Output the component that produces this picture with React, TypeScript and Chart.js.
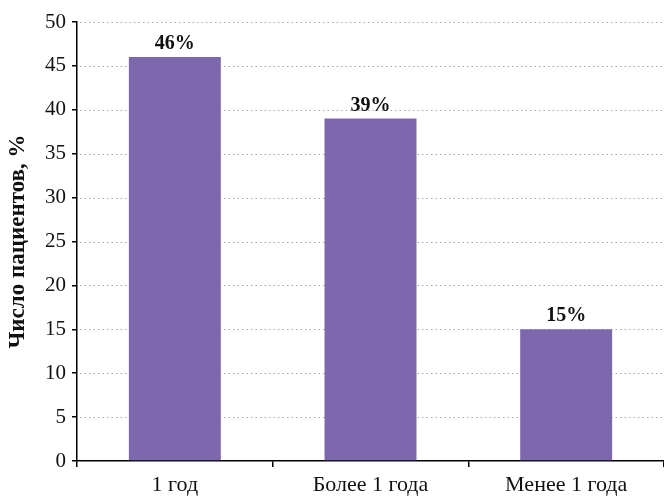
import React, { useEffect, useRef } from "react";
import { Chart, registerables } from "chart.js";

Chart.register(...registerables);

const categories = ["1 год", "Более 1 года", "Менее 1 года"];
const values = [46, 39, 15];
const valueLabels = ["46%", "39%", "15%"];
const yTitle = "Число пациентов, %";

const FONT = "'Liberation Serif', 'DejaVu Serif', serif";

const valueLabelPlugin = {
  id: "valueLabels",
  afterDatasetsDraw(chart: any) {
    const ctx = chart.ctx;
    const meta = chart.getDatasetMeta(0);
    ctx.save();
    ctx.font = `bold 20px ${FONT}`;
    ctx.fillStyle = "#111";
    ctx.textAlign = "center";
    ctx.textBaseline = "alphabetic";
    meta.data.forEach((bar: any, i: number) => {
      ctx.fillText(valueLabels[i], bar.x, bar.y - 8);
    });
    ctx.restore();
  },
};

const dottedGridPlugin = {
  id: "dottedGrid",
  beforeDatasetsDraw(chart: any) {
    const ctx = chart.ctx;
    const y = chart.scales.y;
    const { left, right } = chart.chartArea;
    ctx.save();
    ctx.strokeStyle = "#a8a8a8";
    ctx.lineWidth = 1;
    ctx.setLineDash([1.5, 3]);
    y.ticks.forEach((t: any) => {
      if (t.value === 0) return;
      const py = Math.round(y.getPixelForValue(t.value)) + 0.5;
      ctx.beginPath();
      ctx.moveTo(left + 3, py);
      ctx.lineTo(right, py);
      ctx.stroke();
    });
    ctx.restore();
  },
};

export default function App() {
  const ref = useRef<HTMLCanvasElement>(null);
  useEffect(() => {
    if (!ref.current) return;
    const chart = new Chart(ref.current, {
      type: "bar",
      data: {
        labels: categories,
        datasets: [
          {
            data: values,
            backgroundColor: "#7E68AD",
            barPercentage: 0.94,
            categoryPercentage: 0.5,
          },
        ],
      },
      options: {
        responsive: false,
        animation: false,
        maintainAspectRatio: false,
        layout: { padding: { top: 22, right: 0, left: 0, bottom: 0 } },
        plugins: { legend: { display: false }, tooltip: { enabled: false } },
        scales: {
          x: {
            offset: true,
            grid: {
              offset: true,
              drawOnChartArea: false,
              tickLength: 6,
              tickColor: "#000",
              color: "#000",
              lineWidth: 1.5,
            },
            border: { color: "#000", width: 1.5 },
            ticks: {
              color: "#111",
              font: { family: FONT, size: 22 },
              padding: 5,
            },
            afterFit(scale: any) {
              scale.height = 35;
            },
          },
          y: {
            min: 0,
            max: 50,
            ticks: {
              stepSize: 5,
              color: "#111",
              font: { family: FONT, size: 21 },
              padding: 6,
            },
            grid: {
              drawOnChartArea: false,
              color: "#000",
              lineWidth: 1.5,
              tickLength: 5,
              tickColor: "#000",
              tickWidth: 1.5,
            },
            border: { color: "#000", width: 1.5 },
            title: {
              display: true,
              text: yTitle,
              color: "#111",
              font: { family: FONT, size: 23, weight: "bold" },
              padding: { top: 4, bottom: 2 },
            },
            afterFit(scale: any) {
              scale.width = 77;
            },
          },
        },
      },
      plugins: [dottedGridPlugin, valueLabelPlugin],
    });
    return () => chart.destroy();
  }, []);
  return (
    <div style={{ position: "fixed", left: 0, top: 0, width: 664, height: 496 }}>
      <canvas ref={ref} width={664} height={496} />
    </div>
  );
}
